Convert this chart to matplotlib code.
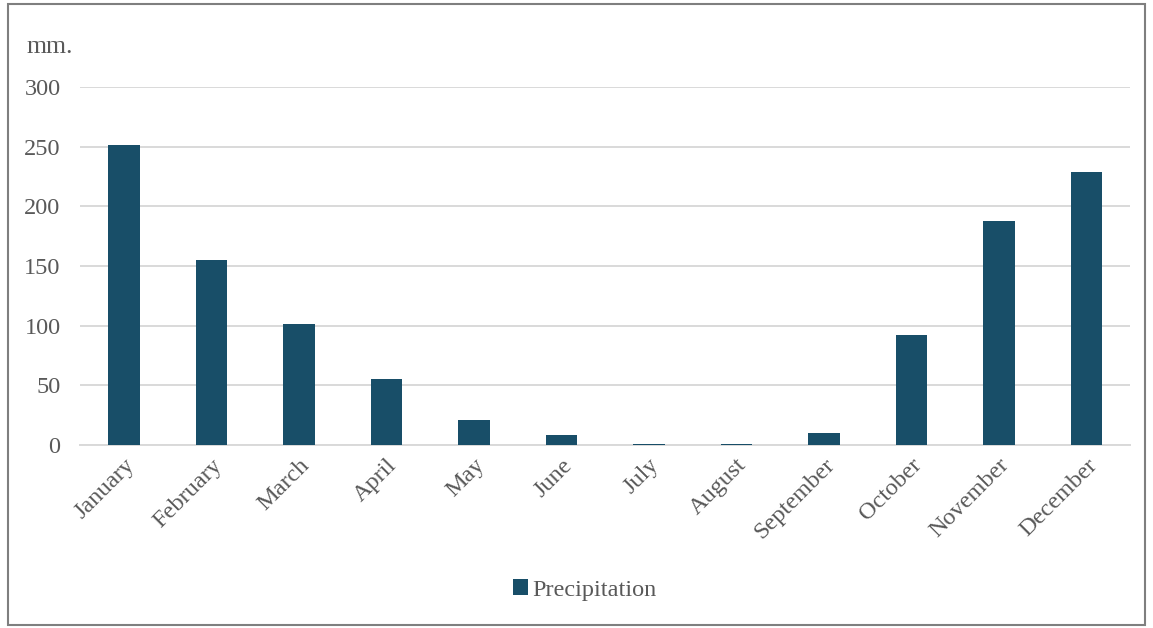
import matplotlib.pyplot as plt
from matplotlib.patches import Rectangle
import numpy as np

months = ["January", "February", "March", "April", "May", "June",
          "July", "August", "September", "October", "November", "December"]
precip = [251, 155, 101, 55, 21, 8, 1, 1, 10, 92, 188, 229]
yticks = [0, 50, 100, 150, 200, 250, 300]

bar_c = "#184e68"
txt_c = "#595959"
grid_c = "#d9d9d9"
fs = 17.5

plt.rcParams["font.family"] = ["Liberation Serif", "DejaVu Serif"]

fig = plt.figure(figsize=(11.53, 6.28), dpi=100)
ax = fig.add_axes([80 / 1153, 1 - 445 / 628, 1050 / 1153, 358 / 628])

x = np.arange(len(months))
ax.bar(x, precip, width=0.36, color=bar_c, label="Precipitation", zorder=3)
ax.set_xlim(-0.5, len(months) - 0.5)
ax.set_ylim(0, 300)
ax.set_yticks(yticks)
ax.set_yticklabels([str(t) for t in yticks], fontsize=fs, color=txt_c)
ax.set_xticks(x)
ax.set_xticklabels(months, rotation=45, ha="right", rotation_mode="anchor",
                   fontsize=fs, color=txt_c)
ax.tick_params(axis="both", length=0)
ax.tick_params(axis="y", pad=14)
ax.tick_params(axis="x", pad=7)
ax.grid(axis="y", color=grid_c, lw=1.4, zorder=0)
for s in ["top", "right", "left"]:
    ax.spines[s].set_visible(False)
ax.spines["bottom"].set_color(grid_c)
ax.spines["bottom"].set_linewidth(1.4)

fig.text(27 / 1153, 1 - 47 / 628, "mm.", fontsize=fs + 1, color=txt_c, va="center")

leg = fig.legend(loc="center", bbox_to_anchor=(585 / 1153, 1 - 590 / 628),
                 frameon=False, fontsize=fs, handlelength=0.6, handleheight=0.6,
                 handletextpad=0.2)
for t in leg.get_texts():
    t.set_color(txt_c)

fig.patches.append(Rectangle((8 / 1153, 3 / 628), 1137 / 1153, 621 / 628,
                             transform=fig.transFigure, fill=False,
                             edgecolor="#7f7f7f", lw=1.5))

fig.savefig("out.png", dpi=100)
